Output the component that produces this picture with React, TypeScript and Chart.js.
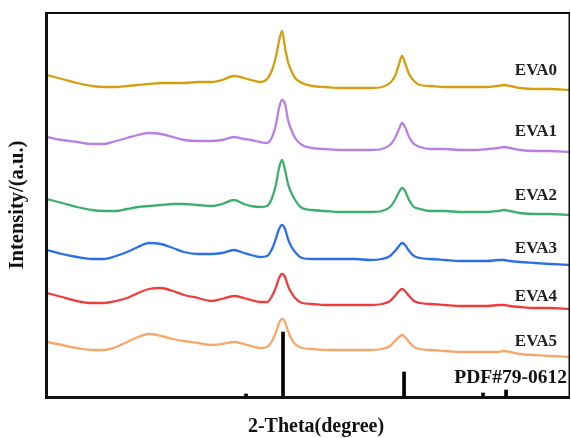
import React, { useEffect, useRef } from "react";
import { Chart, registerables } from "chart.js";

Chart.register(...registerables);

// 2-Theta positions (degree) shared by all patterns
const twoTheta = [
  10.0, 12.01, 14.02, 16.02, 17.63, 19.24, 20.71, 22.18, 23.65, 25.26,
  26.86, 28.34, 30.21, 31.95, 33.42, 35.03, 36.37, 37.31, 38.51, 39.45,
  40.12, 40.66, 41.06, 41.46, 41.86, 42.26, 42.66, 43.2, 44.14, 45.48,
  47.22, 49.23, 51.24, 53.25, 54.84, 55.92, 56.58, 57.12, 57.52, 57.92,
  58.46, 59.13, 59.93, 61.27, 63.27, 65.28, 67.29, 69.03, 70.37, 71.17,
  71.97, 73.31, 75.32, 77.33, 80.0,
];

// stacked intensities (a.u.)
const eva0 = [322,318,314,311,310,310,311,312,313,314,314,314,315,315,317,321,319,317,315,318,327,341,356,366,349,335,327,319,314,311,310,309,309,309,310,314,321,333,341,334,323,316,312,311,310,310,310,310,311,312,311,309,308,308,307];
const eva1 = [260,257,255,253,253,256,259,262,264,263,260,257,256,256,257,260,258,257,255,254,260,273,289,297,293,277,268,259,252,249,248,247,247,247,248,252,259,268,274,270,260,253,250,248,248,247,247,248,249,250,249,247,246,246,245];
const eva2 = [198,194,190,187,186,186,188,190,191,192,193,193,192,191,193,197,193,191,190,191,199,213,229,237,227,213,205,197,189,187,186,185,185,185,186,190,197,205,209,206,197,190,188,186,186,185,185,185,186,187,186,184,183,183,182];
const eva3 = [147,143,140,138,138,141,145,150,154,153,149,145,143,143,144,147,144,142,140,141,148,159,168,172,168,158,151,145,139,138,138,138,138,137,138,141,146,151,154,152,146,141,139,138,137,136,136,136,137,137,136,135,134,133,132];
const eva4 = [104,100,96,94,94,96,99,104,108,109,106,102,99,96,98,101,99,97,95,95,101,110,119,123,120,111,105,99,94,93,92,92,92,92,93,96,101,106,108,106,101,96,94,93,92,91,91,91,92,92,91,90,89,89,88];
const eva5 = [55,52,49,47,47,50,55,60,63,61,58,56,54,52,53,55,53,51,49,50,56,65,74,78,75,66,59,53,49,48,47,47,47,47,48,51,56,60,62,60,55,50,48,47,46,45,45,45,45,46,45,43,42,41,40];

// PDF#79-0612 reference lines
const pdfTheta = [36.64, 41.59, 57.79, 68.36, 71.44];
const pdfIntensity = [3, 65, 25, 4, 7];

const seriesNames = ["EVA0", "EVA1", "EVA2", "EVA3", "EVA4", "EVA5"];
const seriesValues = [eva0, eva1, eva2, eva3, eva4, eva5];
const seriesColors = ["#D4A011", "#B880E2", "#3DAE6E", "#2B70E4", "#EF3D3D", "#F5A76C"];
const labelY = [71, 132, 196, 249, 297, 342];

const SERIF = '"Liberation Serif", "Times New Roman", serif';

export default function App() {
  const ref = useRef<HTMLCanvasElement | null>(null);

  useEffect(() => {
    document.body.style.margin = "0";
    const canvas = ref.current;
    if (!canvas) return;

    const decor = {
      id: "decor",
      afterDraw(chart: any) {
        const ctx = chart.ctx as CanvasRenderingContext2D;
        const a = chart.chartArea;
        ctx.save();
        ctx.fillStyle = "#111";
        // frame
        ctx.fillRect(a.left - 2, a.top - 1, 3, a.bottom - a.top + 3);
        ctx.fillRect(a.left - 2, a.bottom - 1, a.right - a.left + 2, 3);
        ctx.fillRect(a.left - 2, a.top - 1, a.right - a.left + 2, 2);
        ctx.fillRect(a.right - 1.5, a.top - 1, 1.5, a.bottom - a.top + 2);
        // labels
        ctx.fillStyle = "#222";
        ctx.textAlign = "right";
        ctx.textBaseline = "middle";
        ctx.font = `bold 17px ${SERIF}`;
        seriesNames.forEach((n, i) => ctx.fillText(n, 557, labelY[i]));
        ctx.fillStyle = "#111";
        ctx.font = `bold 19.5px ${SERIF}`;
        ctx.fillText("PDF#79-0612", 567, 378);
        // x-axis title
        ctx.textAlign = "center";
        ctx.font = `bold 20px ${SERIF}`;
        ctx.fillText("2-Theta(degree)", 316, 427);
        ctx.restore();
      },
    };

    const datasets: any[] = seriesValues.map((vals, i) => ({
      type: "line",
      label: seriesNames[i],
      data: vals.map((v, j) => ({ x: twoTheta[j], y: v })),
      borderColor: seriesColors[i],
      borderWidth: 2.3,
      pointRadius: 0,
      cubicInterpolationMode: "monotone",
      fill: false,
      order: 2,
    }));
    datasets.push({
      type: "bar",
      label: "PDF#79-0612",
      data: pdfTheta.map((t, j) => ({ x: t, y: pdfIntensity[j] })),
      backgroundColor: "#000",
      barThickness: 3,
      order: 1,
    });

    const chart = new Chart(canvas, {
      type: "line",
      data: { datasets },
      options: {
        animation: false,
        responsive: false,
        layout: { padding: { top: 13, right: 1, left: 0, bottom: 0 } },
        plugins: { legend: { display: false }, tooltip: { enabled: false } },
        scales: {
          x: {
            type: "linear",
            min: 10,
            max: 80,
            offset: false,
            grid: { display: false },
            border: { display: false },
            ticks: { display: false },
            title: { display: false, text: "2-Theta(degree)" },
            afterFit: (s: any) => {
              s.height = 41;
            },
          },
          y: {
            type: "linear",
            min: 0,
            max: 384,
            grid: { display: false },
            border: { display: false },
            ticks: { display: false },
            title: {
              display: true,
              text: "Intensity/(a.u.)",
              color: "#111",
              font: { family: SERIF, size: 20.5, weight: "bold" },
              padding: { top: 5, bottom: 0 },
            },
            afterFit: (s: any) => {
              s.width = 47;
            },
          },
        },
      } as any,
      plugins: [decor],
    });
    return () => chart.destroy();
  }, []);

  return (
    <div style={{ width: 571, height: 438 }}>
      <canvas ref={ref} width={571} height={438} />
    </div>
  );
}
